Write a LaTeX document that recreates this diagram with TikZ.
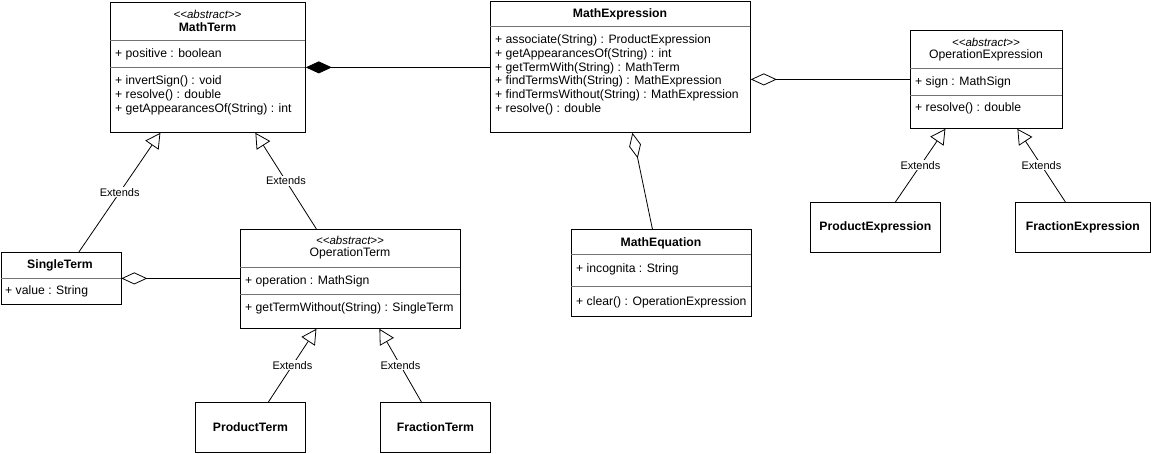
\documentclass[tikz,border=0pt]{standalone}
\usepackage{fontspec}
\setmainfont{Liberation Sans}
\usetikzlibrary{arrows.meta,shapes.multipart,positioning}

\newcommand{\abstractstereo}{<\kern0pt<abstract>\kern0pt>}

\begin{document}
\begin{tikzpicture}[x=1pt, y=-1pt,
    box/.style = {draw, line width=0.8pt, anchor=north west, inner sep=0pt},
    cls/.style = {box, font=\fontsize{12.2}{14}\selectfont\bfseries},
    member/.style = {anchor=west, inner sep=0pt, font=\fontsize{12.2}{14}\selectfont},
    title/.style = {inner sep=0pt, font=\fontsize{12.2}{14}\selectfont\bfseries},
    plaintitle/.style = {inner sep=0pt, font=\fontsize{12.2}{14}\selectfont},
    stereo/.style = {inner sep=0pt, font=\fontsize{11.5}{13}\selectfont\itshape},
    sep/.style = {draw=black!55, line width=0.6pt},
    extends/.style = {-{Triangle[open, length=15pt, width=16pt]}, line width=0.8pt},
    aggr/.style = {{Diamond[open, length=26pt, width=12pt]}-, line width=0.8pt},
    comp/.style = {{Diamond[length=26pt, width=12pt]}-, line width=0.8pt},
    lbl/.style = {fill=white, inner sep=1pt, font=\fontsize{11}{12}\selectfont}]
    \useasboundingbox (0,0) rectangle (1151,454);

    \node[box, minimum width=195pt, minimum height=130pt] (mathterm) at (110,2) {};
    \node[stereo] at (207.5,14) {\abstractstereo};
    \node[title] at (207.5,27) {MathTerm};
    \draw[sep] (110,40) -- (305,40);
    \node[member] at (115,54) {+ positive : boolean};
    \draw[sep] (110,67) -- (305,67);
    \node[member] at (115,81) {+ invertSign() : void};
    \node[member] at (115,95) {+ resolve() : double};
    \node[member] at (115,109) {+ getAppearancesOf(String) : int};

    \node[box, minimum width=260pt, minimum height=131pt] (mathexpr) at (490,1) {};
    \node[title] at (620,14) {MathExpression};
    \draw[sep] (490,26) -- (750,26);
    \node[member] at (495,40) {+ associate(String) : ProductExpression};
    \node[member] at (495,54) {+ getAppearancesOf(String) : int};
    \node[member] at (495,68) {+ getTermWith(String) : MathTerm};
    \node[member] at (495,81) {+ findTermsWith(String) : MathExpression};
    \node[member] at (495,95) {+ findTermsWithout(String) : MathExpression};
    \node[member] at (495,109) {+ resolve() : double};

    \node[box, minimum width=152pt, minimum height=98pt] (opexpr) at (910,30) {};
    \node[stereo] at (986,42) {\abstractstereo};
    \node[plaintitle] at (986,55) {OperationExpression};
    \draw[sep] (910,68) -- (1062,68);
    \node[member] at (915,82) {+ sign : MathSign};
    \draw[sep] (910,95) -- (1062,95);
    \node[member] at (915,108) {+ resolve() : double};

    \node[cls, minimum width=130pt, minimum height=50pt] (prodexpr) at (810,202) {ProductExpression};
    \node[cls, minimum width=135pt, minimum height=50pt] (fracexpr) at (1015,202) {FractionExpression};

    \node[box, minimum width=120pt, minimum height=52pt] (singleterm) at (0.5,252) {};
    \node[title] at (60,265) {SingleTerm};
    \draw[sep] (0.5,278) -- (120.5,278);
    \node[member] at (5,291) {+ value : String};

    \node[box, minimum width=220pt, minimum height=99pt] (opterm) at (240,229) {};
    \node[stereo] at (350,240) {\abstractstereo};
    \node[plaintitle] at (350,253) {OperationTerm};
    \draw[sep] (240,267) -- (460,267);
    \node[member] at (245,281) {+ operation : MathSign};
    \draw[sep] (240,294) -- (460,294);
    \node[member] at (245,308) {+ getTermWithout(String) : SingleTerm};

    \node[cls, minimum width=110pt, minimum height=50pt] (prodterm) at (195,402) {ProductTerm};
    \node[cls, minimum width=110pt, minimum height=50pt] (fracterm) at (380,402) {FractionTerm};

    \node[box, minimum width=180pt, minimum height=87pt] (matheq) at (571,229) {};
    \node[title] at (661,243) {MathEquation};
    \draw[sep] (571,254) -- (751,254);
    \node[member] at (576,269) {+ incognita : String};
    \draw[sep] (571,286) -- (751,286);
    \node[member] at (576,302) {+ clear() : OperationExpression};

    \draw[comp] (mathterm.east) -- (mathterm.east -| mathexpr.west);
    \draw[aggr] (mathexpr.east |- opexpr.west) -- (opexpr.west);
    \draw[aggr] ([xshift=12pt]mathexpr.south) -- ([xshift=-9pt]matheq.north);
    \draw[aggr] (singleterm.east) -- (singleterm.east -| opterm.west);

    \draw[extends] ([xshift=18pt]singleterm.north) -- node[lbl] {Extends} ([xshift=-47.5pt]mathterm.south);
    \draw[extends] ([xshift=-34pt]opterm.north) -- node[lbl] {Extends} ([xshift=47.5pt]mathterm.south);
    \draw[extends] ([xshift=18pt]prodterm.north) -- node[lbl] {Extends} ([xshift=-34pt]opterm.south);
    \draw[extends] ([xshift=-14pt]fracterm.north) -- node[lbl] {Extends} ([xshift=29pt]opterm.south);
    \draw[extends] ([xshift=20pt]prodexpr.north) -- node[lbl] {Extends} ([xshift=-41pt]opexpr.south);
    \draw[extends] ([xshift=-17.5pt]fracexpr.north) -- node[lbl] {Extends} ([xshift=31pt]opexpr.south);
\end{tikzpicture}
\end{document}
